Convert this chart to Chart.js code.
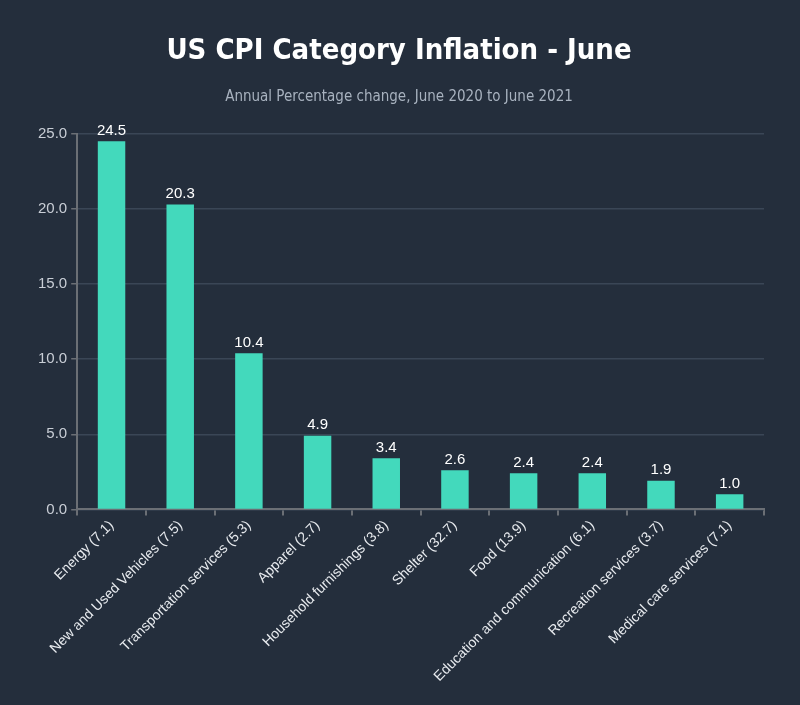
<!DOCTYPE html>
<html>
<head>
<meta charset="utf-8">
<script src="https://cdn.jsdelivr.net/npm/chart.js@4"></script>
<style>
  html, body { margin: 0; padding: 0; background: #242e3c; }
  #wrap { width: 800px; height: 705px; }
</style>
</head>
<body>
<div id="wrap"><canvas id="cpi"></canvas></div>
<script>
// categories (relative importance in brackets) and annual % change
var categories = ["Energy (7.1)", "New and Used Vehicles (7.5)", "Transportation services (5.3)",
  "Apparel (2.7)", "Household furnishings (3.8)", "Shelter (32.7)", "Food (13.9)",
  "Education and communication (6.1)", "Recreation services (3.7)", "Medical care services (7.1)"];
var changes = [24.5, 20.3, 10.4, 4.9, 3.4, 2.6, 2.4, 2.4, 1.9, 1.0];

var narrow = "'Liberation Sans Narrow', 'DejaVu Sans Condensed', Arial, sans-serif";
var axisFont = "'Liberation Sans', Arial, sans-serif";

// value labels above each bar
var barLabels = {
  id: 'barLabels',
  afterDatasetsDraw: function(chart) {
    var ctx = chart.ctx;
    var meta = chart.getDatasetMeta(0);
    ctx.save();
    ctx.fillStyle = '#ffffff';
    ctx.font = '15px ' + axisFont;
    ctx.textAlign = 'center';
    ctx.textBaseline = 'bottom';
    meta.data.forEach(function(bar, i) {
      ctx.fillText(changes[i].toFixed(1), bar.x, bar.y - 3);
    });
    ctx.restore();
  }
};

new Chart(document.getElementById("cpi"), {
  type: 'bar',
  data: {
    labels: categories,
    datasets: [{
      data: changes,
      backgroundColor: '#43d9bc',
      barPercentage: 0.4,
      categoryPercentage: 1.0
    }]
  },
  options: {
    responsive: true,
    maintainAspectRatio: false,
    animation: false,
    layout: { padding: { left: 34, right: 36, top: 34, bottom: 18 } },
    plugins: {
      legend: { display: false },
      tooltip: { enabled: false },
      title: {
        display: true,
        text: 'US CPI Category Inflation - June',
        color: '#ffffff',
        font: { family: narrow, size: 29, weight: 'bold' },
        padding: { top: 0, bottom: 19 }
      },
      subtitle: {
        display: true,
        text: 'Annual Percentage change, June 2020 to June 2021',
        color: '#a8b2bf',
        font: { family: narrow, size: 15 },
        padding: { top: 0, bottom: 28 }
      }
    },
    scales: {
      x: {
        border: { color: '#6b6f75', width: 2 },
        grid: { display: true, drawOnChartArea: false, tickLength: 6, tickColor: '#6b6f75', lineWidth: 2 },
        ticks: { color: '#e8ebef', minRotation: 45, maxRotation: 45, font: { family: axisFont, size: 14 }, padding: 2 }
      },
      y: {
        min: 0,
        max: 25,
        border: { color: '#6b6f75', width: 2 },
        grid: { color: '#3a4656', tickColor: '#6b6f75', tickLength: 6, lineWidth: 1.5 },
        ticks: {
          stepSize: 5,
          color: '#c9ced6',
          font: { family: axisFont, size: 15 },
          padding: 4,
          callback: function(v) { return v.toFixed(1); }
        }
      }
    }
  },
  plugins: [barLabels]
});
</script>
</body>
</html>
